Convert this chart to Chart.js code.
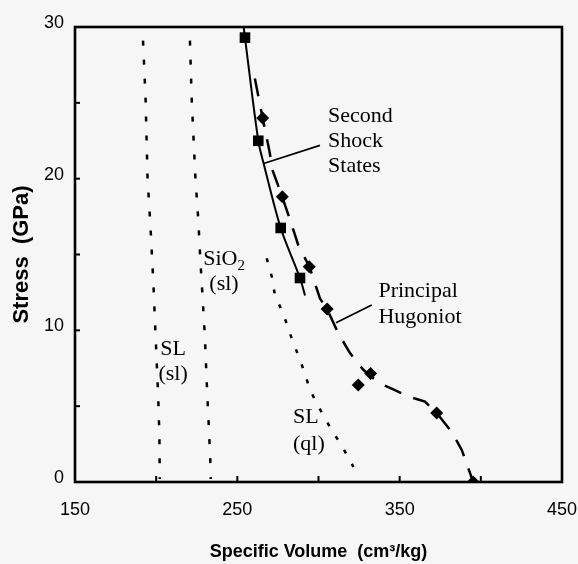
<!DOCTYPE html>
<html>
<head>
<meta charset="utf-8">
<script src="https://cdn.jsdelivr.net/npm/chart.js@4.4.0/dist/chart.umd.min.js"></script>
<style>
  html, body { margin: 0; padding: 0; background: #f6f6f6; }
</style>
</head>
<body>
<canvas id="chart" width="578" height="564"></canvas>
<script>
// values: specific volume (cm3/kg) vs stress (GPa)
const slSolidX = [191.9, 193.5, 194.7, 196.4, 198.2, 199.3, 200.5, 201.3, 202.0, 202.2];
const slSolidY = [29.1, 25.2, 20.0, 17.0, 13.3, 10.5, 7.5, 5.5, 3.0, 0.2];

const sio2X = [220.8, 221.9, 224.2, 226.0, 227.3, 228.7, 230.1, 231.1, 232.5, 233.4, 233.6];
const sio2Y = [29.1, 25.2, 20.0, 17.2, 14.5, 12.0, 9.4, 6.7, 3.5, 1.3, 0.2];

const slQuartzX = [268.1, 271.2, 273.2, 278.3, 284.5, 288.4, 291.7, 294.8, 298.9, 304.0, 308.1, 313.3, 317.4, 321.5];
const slQuartzY = [14.75, 13.55, 12.3, 11.1, 9.15, 8.15, 7.1, 6.07, 5.19, 4.2, 3.43, 2.56, 1.79, 1.0];

const hugoniotX = [260.8, 265.6, 269.8, 271.9, 277.7, 283.5, 287.6, 294.4, 300.9, 305.5, 312.2, 319.4, 327.6, 336.9, 346.1, 356.4, 365.6, 372.8, 382.1, 388.3, 395.3];
const hugoniotY = [26.6, 24.0, 21.8, 20.5, 18.8, 16.95, 15.6, 14.2, 12.1, 11.35, 9.8, 8.5, 7.4, 6.55, 6.1, 5.6, 5.3, 4.55, 3.3, 2.1, 0];

const secondShockX = [253.9, 254.7, 262.9, 266.2, 276.7, 288.6, 291.7];
const secondShockY = [30.0, 29.3, 22.5, 21.0, 16.75, 13.45, 12.3];

const squareX = [254.7, 262.9, 276.7, 288.6];
const squareY = [29.3, 22.5, 16.75, 13.45];

const diamondX = [265.6, 277.7, 294.3, 305.3, 324.5, 332.1, 372.8, 395.3];
const diamondY = [24.0, 18.8, 14.2, 11.4, 6.4, 7.15, 4.55, 0];

const leaderShockX = [300.9, 266.2];
const leaderShockY = [22.2, 21.0];
const leaderHugX = [332.8, 310.8];
const leaderHugY = [11.67, 10.5];

const xTickLabels = [150, 250, 350, 450];
const yTickLabels = [0, 10, 20, 30];

const noteLines = [
  ['Second', 'Shock', 'States'],
  ['Principal', 'Hugoniot'],
  ['SiO_2', '(sl)'],
  ['SL', '(sl)'],
  ['SL', '(ql)']
];

function toPoints(xs, ys) {
  return xs.map((x, i) => ({ x: x, y: ys[i] }));
}

// frame + inward tick marks
const framePlugin = {
  id: 'frame',
  afterDatasetsDraw(chart) {
    const { ctx, chartArea: a, scales: { x, y } } = chart;
    ctx.save();
    ctx.strokeStyle = '#000';
    ctx.lineWidth = 2;
    x.ticks.forEach(t => {
      const px = x.getPixelForValue(t.value);
      ctx.beginPath(); ctx.moveTo(px, a.bottom); ctx.lineTo(px, a.bottom - 6); ctx.stroke();
    });
    y.ticks.forEach(t => {
      const py = y.getPixelForValue(t.value);
      ctx.beginPath(); ctx.moveTo(a.left, py); ctx.lineTo(a.left + 5, py); ctx.stroke();
    });
    ctx.lineWidth = 2.6;
    ctx.strokeRect(a.left, a.top, a.right - a.left, a.bottom - a.top);
    ctx.restore();
  }
};

// text notes placed in data units
const notesPlugin = {
  id: 'notes',
  afterDraw(chart, args, opts) {
    const { ctx, scales: { x, y } } = chart;
    ctx.save();
    ctx.fillStyle = '#000';
    ctx.textBaseline = 'alphabetic';
    opts.items.forEach((it, k) => {
      const px = x.getPixelForValue(it.x);
      let py = y.getPixelForValue(it.y);
      noteLines[k].forEach(line => {
        const parts = line.split('_');
        ctx.font = '22px "Liberation Serif"';
        const w0 = ctx.measureText(parts[0]).width;
        let w1 = 0;
        if (parts[1]) { ctx.font = '15px "Liberation Serif"'; w1 = ctx.measureText(parts[1]).width; }
        const total = w0 + w1;
        const left = it.align === 'center' ? px - total / 2 : px;
        ctx.textAlign = 'left';
        ctx.font = '22px "Liberation Serif"';
        ctx.fillText(parts[0], left, py);
        if (parts[1]) {
          ctx.font = '15px "Liberation Serif"';
          ctx.fillText(parts[1], left + w0, py + 5);
        }
        py += it.lh;
      });
    });
    ctx.restore();
  }
};

const dotted = { showLine: true, pointRadius: 0, borderColor: '#000', borderWidth: 2.5, borderDash: [5, 14], fill: false };

new Chart(document.getElementById('chart'), {
  type: 'scatter',
  data: {
    datasets: [
      { ...dotted, data: toPoints(slSolidX, slSolidY) },
      { ...dotted, data: toPoints(sio2X, sio2Y) },
      { ...dotted, borderDash: [4, 12], data: toPoints(slQuartzX, slQuartzY) },
      { showLine: true, pointRadius: 0, borderColor: '#000', borderWidth: 2.5, borderDash: [18, 13], data: toPoints(hugoniotX, hugoniotY) },
      { showLine: true, pointRadius: 0, borderColor: '#000', borderWidth: 2, tension: 0.3, data: toPoints(secondShockX, secondShockY) },
      { showLine: true, pointRadius: 0, borderColor: '#000', borderWidth: 1.8, data: toPoints(leaderShockX, leaderShockY) },
      { showLine: true, pointRadius: 0, borderColor: '#000', borderWidth: 1.8, data: toPoints(leaderHugX, leaderHugY) },
      { pointStyle: 'rect', pointRadius: 7.5, backgroundColor: '#000', borderColor: '#000', borderWidth: 0, data: toPoints(squareX, squareY) },
      { pointStyle: 'rectRot', pointRadius: 6.5, backgroundColor: '#000', borderColor: '#000', borderWidth: 0, data: toPoints(diamondX, diamondY) }
    ]
  },
  options: {
    responsive: false,
    animation: false,
    events: [],
    layout: { padding: { top: 27, right: 16, left: 0, bottom: 0 } },
    plugins: {
      legend: { display: false },
      tooltip: { enabled: false },
      notes: {
        items: [
          { x: 305.9, y: 23.76, align: 'left', lh: 25 },
          { x: 336.9, y: 12.22, align: 'left', lh: 26.5 },
          { x: 241.8, y: 14.31, align: 'center', lh: 25 },
          { x: 210.4, y: 8.38, align: 'center', lh: 25 },
          { x: 284.3, y: 3.88, align: 'left', lh: 26.5 }
        ]
      }
    },
    scales: {
      x: {
        type: 'linear', min: 150, max: 450,
        grid: { display: false, drawTicks: false },
        border: { display: false },
        ticks: {
          stepSize: 50, autoSkip: false, maxRotation: 0, padding: 17, color: '#000',
          font: { family: 'Liberation Sans', size: 18 },
          callback: v => xTickLabels.includes(v) ? String(v) : ''
        },
        title: {
          display: true, text: 'Specific Volume  (cm³/kg)', color: '#000',
          font: { family: 'Liberation Sans', size: 18, weight: 'bold' },
          padding: { top: 0, bottom: 1 }
        },
        afterFit: s => { s.height = 82; s.paddingLeft = 0; s.paddingRight = 0; }
      },
      y: {
        type: 'linear', min: 0, max: 30,
        grid: { display: false, drawTicks: false },
        border: { display: false },
        ticks: {
          stepSize: 5, autoSkip: false, padding: 11, labelOffset: -4, color: '#000',
          font: { family: 'Liberation Sans', size: 18 },
          callback: v => yTickLabels.includes(v) ? String(v) : ''
        },
        title: {
          display: true, text: 'Stress  (GPa)', color: '#000',
          font: { family: 'Liberation Sans', size: 22, weight: 'bold' },
          padding: { top: 9, bottom: 0 }
        },
        afterFit: s => { s.width = 75; s.paddingTop = 0; s.paddingBottom = 0; }
      }
    }
  },
  plugins: [framePlugin, notesPlugin]
});
</script>
</body>
</html>
